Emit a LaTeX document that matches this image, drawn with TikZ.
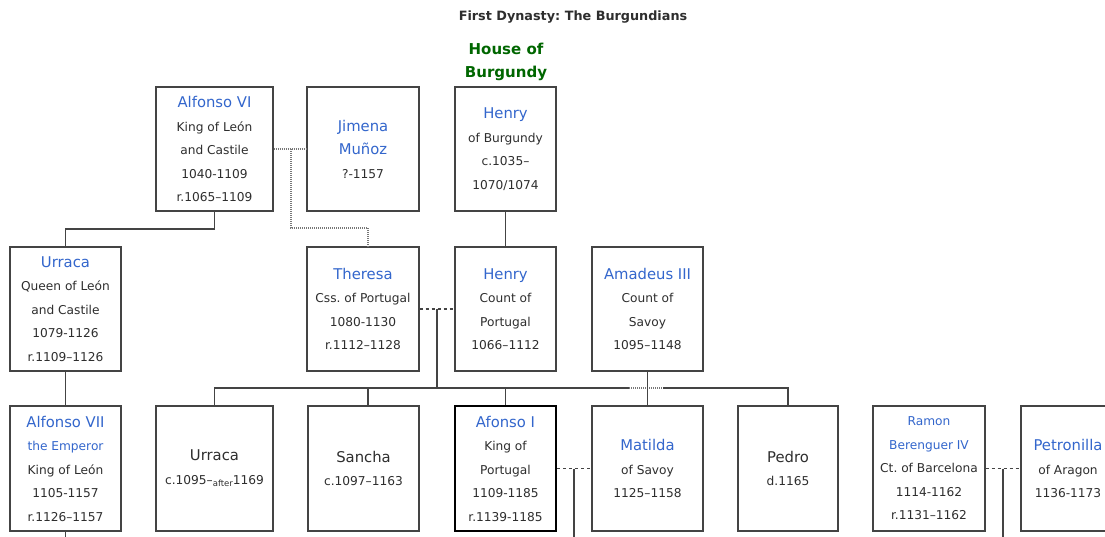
\documentclass[tikz,border=0pt]{standalone}
\usepackage{fontspec}
\setmainfont{DejaVu Sans}
\frenchspacing
\definecolor{boxc}{HTML}{444444}
\definecolor{txt}{HTML}{2E2E2E}
\definecolor{lnk}{HTML}{3366CC}
\definecolor{hgreen}{HTML}{006600}
\definecolor{dotc}{HTML}{777777}
\newcommand\nm[1]{{\fontsize{14.8}{23.5}\selectfont\color{lnk}#1}}
\newcommand\nb[1]{{\fontsize{14.8}{23.5}\selectfont #1}}
\newcommand\lsub[1]{{\color{lnk}#1}}
\begin{document}
\begin{tikzpicture}[x=1pt,y=-1pt,
  person/.style={draw=boxc, line width=1.2pt, fill=white, align=center, inner sep=0pt,
    minimum height=124pt, text=txt, font=\fontsize{12.2}{23.5}\selectfont},
  link/.style={draw=boxc, line width=1.3pt},
  marr/.style={draw=boxc, line width=1.1pt, dash pattern=on 3pt off 3pt},
  dotl/.style={draw=dotc, line width=1.2pt, dash pattern=on 1pt off 1pt}]
\useasboundingbox (0,0) rectangle (1105,536);
\clip (0,0) rectangle (1105,536);

\node[font=\bfseries\fontsize{12.8}{15}\selectfont, text=txt] (title) at (573,17) {First Dynasty: The Burgundians};
\node[font=\bfseries\fontsize{15}{23}\selectfont, text=hgreen, align=center] (house) at (506,61.5) {House of\\Burgundy};

% row 1
\node[person, minimum width=117pt] (av6) at (214.5,149) {\nm{Alfonso VI}\\King of León\\and Castile\\1040-1109\\r.1065–1109};
\node[person, minimum width=112pt] (jim) at (363,149) {\nm{Jimena}\\\nm{Muñoz}\\?-1157};
\node[person, minimum width=101pt] (hb) at (505.5,149) {\nm{Henry}\\of Burgundy\\c.1035–\\1070/1074};

% row 2
\node[person, minimum width=111pt] (urr) at (65.5,309) {\nm{Urraca}\\Queen of León\\and Castile\\1079-1126\\r.1109–1126};
\node[person, minimum width=112pt] (ther) at (363,309) {\nm{Theresa}\\Css. of Portugal\\1080-1130\\r.1112–1128};
\node[person, minimum width=101pt] (hc) at (505.5,309) {\nm{Henry}\\Count of\\Portugal\\1066–1112};
\node[person, minimum width=111pt] (ama) at (647.5,309) {\nm{Amadeus III}\\Count of\\Savoy\\1095–1148};

% row 3
\node[person, minimum width=111pt, minimum height=125pt] (av7) at (65.5,468.5) {\nm{Alfonso VII}\\\lsub{the Emperor}\\King of León\\1105-1157\\r.1126–1157};
\node[person, minimum width=117pt, minimum height=125pt] (urr2) at (214.5,468.5) {\nb{Urraca}\\c.1095–\raisebox{-2.5pt}{\fontsize{8.5}{10}\selectfont after}1169};
\node[person, minimum width=111pt, minimum height=125pt] (san) at (363.5,468.5) {\nb{Sancha}\\c.1097–1163};
\node[person, minimum width=101pt, minimum height=125pt, draw=black, line width=2.4pt] (af1) at (505.5,468.5) {\nm{Afonso I}\\King of\\Portugal\\1109-1185\\r.1139-1185};
\node[person, minimum width=111pt, minimum height=125pt] (mat) at (647.5,468.5) {\nm{Matilda}\\of Savoy\\1125–1158};
\node[person, minimum width=100pt, minimum height=125pt] (ped) at (788,468.5) {\nb{Pedro}\\d.1165};
\node[person, minimum width=112pt, minimum height=125pt] (ram) at (929,468.5) {\lsub{Ramon}\\\lsub{Berenguer IV}\\Ct. of Barcelona\\1114-1162\\r.1131–1162};
\node[person, minimum width=94pt, minimum height=125pt] (pet) at (1068,468.5) {\nm{Petronilla}\\of Aragon\\1136-1173};

% connectors
\draw[link] (av6.south) -- ++(0,17.5) -| (urr.north);
\draw[dotl] (av6.east) -- (jim.west);
\coordinate (j1) at (291,149);
\coordinate (j2) at (368,228);
\draw[dotl] (j1) |- (j2) -- (j2 |- ther.north);
\draw[link] (hb.south) -- (hc.north);
\draw[marr] (ther.east) -- (hc.west);
\coordinate (m1) at (437,309);
\coordinate (b1) at (437,388);
\draw[link] (m1) -- (b1);
\coordinate (x1) at (629,388);
\coordinate (x2) at (663,388);
\draw[link] (urr2.north) |- (x1);
\draw[dotl] (x1) -- (x2);
\draw[link] (x2) -| (ped.north);
\coordinate (sd) at (368,388);
\draw[link] (sd) -- (sd |- san.north);
\draw[link] (af1.north |- b1) -- (af1.north);
\draw[link] (ama.south) -- (mat.north);
\draw[link] (urr.south) -- (av7.north);
\coordinate (e1) at (65.5,540);
\draw[link] (av7.south) -- (e1);
\draw[marr] (af1.east) -- (mat.west);
\coordinate (m2) at (574,468.5);
\coordinate (e2) at (574,540);
\draw[link] (m2) -- (e2);
\draw[marr] (ram.east) -- (pet.west);
\coordinate (m3) at (1003,468.5);
\coordinate (e3) at (1003,540);
\draw[link] (m3) -- (e3);
\end{tikzpicture}
\end{document}
